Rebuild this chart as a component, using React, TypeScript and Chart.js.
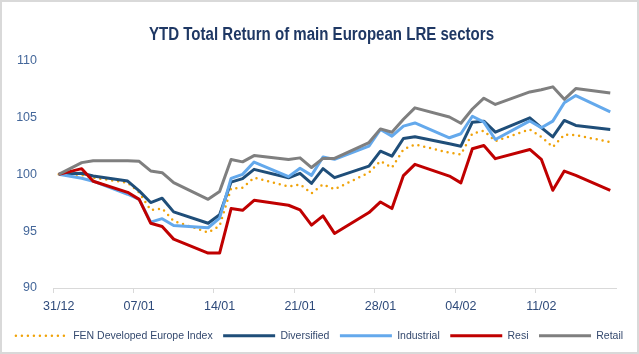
import React, { useEffect, useRef } from 'react';
import { Chart, registerables } from 'chart.js';

Chart.register(...registerables);

// Calendar of the category axis (one slot per day, 31/12 .. 17/02)
const dateLabels = [
  '31/12',
  '01/01', '02/01', '03/01', '04/01', '05/01', '06/01', '07/01', '08/01', '09/01', '10/01',
  '11/01', '12/01', '13/01', '14/01', '15/01', '16/01', '17/01', '18/01', '19/01', '20/01',
  '21/01', '22/01', '23/01', '24/01', '25/01', '26/01', '27/01', '28/01', '29/01', '30/01', '31/01',
  '01/02', '02/02', '03/02', '04/02', '05/02', '06/02', '07/02', '08/02', '09/02', '10/02',
  '11/02', '12/02', '13/02', '14/02', '15/02', '16/02', '17/02',
];

// Labels shown on the x axis
const tickLabels = ['31/12', '07/01', '14/01', '21/01', '28/01', '04/02', '11/02'];

// Trading days that carry a value
const tradeDates = [
  '31/12', '02/01', '03/01', '06/01', '07/01', '08/01', '09/01', '10/01',
  '13/01', '14/01', '15/01', '16/01', '17/01', '20/01', '21/01', '22/01', '23/01', '24/01',
  '27/01', '28/01', '29/01', '30/01', '31/01', '03/02', '04/02', '05/02', '06/02', '07/02',
  '10/02', '11/02', '12/02', '13/02', '14/02', '17/02',
];

const fenValues = [
  100, 99.95, 99.7, 99.27, 98.4, 96.87, 96.99, 95.9,
  94.89, 95.46, 98.75, 98.83, 99.71, 98.92, 99.12, 98.33, 99.12, 98.68,
  100.15, 101.17, 100.59, 102.19, 102.63, 101.9, 101.75, 103.6, 103.83, 102.92,
  103.95, 103.3, 102.4, 103.5, 103.46, 102.83,
];

const diversifiedValues = [
  100, 100.09, 99.85, 99.41, 98.55, 97.52, 97.9, 96.7,
  95.7, 96.45, 99.32, 99.62, 100.44, 99.7, 100.09, 99.2, 100.5, 99.71,
  100.73, 102.04, 101.6, 103.15, 103.3, 102.7, 102.48, 104.59, 104.68, 103.71,
  104.97, 104.12, 103.29, 104.74, 104.3, 103.95,
];

const industrialValues = [
  100, 99.65, 99.4, 98.25, 97.8, 95.8, 96.1, 95.5,
  95.3, 96.15, 99.65, 100.0, 101.08, 99.8, 100.53, 99.91, 101.52, 101.32,
  102.48, 103.95, 103.36, 104.24, 104.52, 103.22, 103.57, 105.11, 104.59, 103.07,
  104.7, 104.1, 104.68, 106.3, 106.93, 105.5,
];

const resiValues = [
  100, 100.5, 99.39, 98.42, 97.8, 95.7, 95.41, 94.3,
  93.07, 93.07, 96.99, 96.84, 97.72, 97.28, 96.87, 95.53, 96.34, 94.8,
  96.64, 97.57, 96.99, 99.89, 100.88, 99.85, 99.25, 102.25, 102.54, 101.38,
  102.19, 101.32, 98.6, 100.29, 99.91, 98.6,
];

const retailValues = [
  100, 101.03, 101.2, 101.2, 101.15, 100.3, 100.15, 99.27,
  97.8, 98.5, 101.3, 101.1, 101.65, 101.3, 101.45, 100.6, 101.4, 101.4,
  102.8, 104.0, 103.7, 104.85, 105.85, 105.05, 104.5, 105.75, 106.7, 106.15,
  107.25, 107.45, 107.7, 106.6, 107.55, 107.15,
];

const chartTitle = 'YTD Total Return of main European LRE sectors';
const seriesNames = ['FEN Developed Europe Index', 'Diversified', 'Industrial', 'Resi', 'Retail'];
const seriesColors = ['#F0A30A', '#1F4E79', '#64A9EC', '#C00000', '#7F7F7F'];
const seriesValues = [fenValues, diversifiedValues, industrialValues, resiValues, retailValues];

const toCalendar = (vals: number[]) =>
  dateLabels.map((d) => {
    const i = tradeDates.indexOf(d);
    return i >= 0 ? vals[i] : null;
  });

const BASE_FONT = '"Liberation Sans", Arial, sans-serif';

export default function App() {
  const ref = useRef<HTMLCanvasElement>(null);

  useEffect(() => {
    document.body.style.margin = '0';
    const canvas = ref.current;
    if (!canvas) return;

    const datasets = seriesNames.map((name, i) => {
      const dotted = i === 0;
      return {
        label: name,
        data: toCalendar(seriesValues[i]),
        borderColor: seriesColors[i],
        backgroundColor: seriesColors[i],
        borderWidth: dotted ? 2.5 : 3,
        borderDash: dotted ? [0, 6] : [],
        borderCapStyle: dotted ? 'round' : 'butt',
        borderJoinStyle: 'round',
        pointRadius: 0,
        pointHoverRadius: 0,
        spanGaps: true,
        tension: 0,
        yAxisID: 'y',
        order: seriesNames.length - i,
      };
    });

    const chart = new Chart(canvas, {
      type: 'line',
      data: { labels: dateLabels, datasets: datasets as any },
      options: {
        responsive: false,
        animation: false,
        devicePixelRatio: 1,
        layout: { padding: { left: 0, right: 0, top: 58.7, bottom: 1 } },
        font: { family: BASE_FONT },
        plugins: {
          tooltip: { enabled: false },
          title: { display: false },
          legend: {
            display: true,
            position: 'bottom',
            labels: {
              usePointStyle: true,
              pointStyleWidth: 52,
              boxWidth: 52,
              padding: 10.5,
              color: '#34496E',
              font: { family: BASE_FONT, size: 10.5 },
              generateLabels: (c: any) =>
                c.data.datasets.map((ds: any, i: number) => ({
                  text: ds.label,
                  fillStyle: ds.borderColor,
                  strokeStyle: ds.borderColor,
                  lineWidth: ds.borderWidth,
                  lineDash: ds.borderDash,
                  lineCap: ds.borderCapStyle,
                  pointStyle: 'line',
                  hidden: false,
                  datasetIndex: i,
                  fontColor: '#34496E',
                })),
            },
          },
        },
        scales: {
          x: {
            type: 'category',
            offset: true,
            grid: {
              display: true,
              offset: true,
              drawOnChartArea: false,
              drawTicks: true,
              tickLength: 5,
              color: (ctx: any) => (ctx.index % 7 === 0 ? '#D9D9D9' : 'rgba(0,0,0,0)'),
            },
            border: { display: true, color: '#D9D9D9', width: 1 },
            ticks: {
              autoSkip: false,
              maxRotation: 0,
              minRotation: 0,
              padding: 6,
              color: '#2E4A7A',
              font: { family: BASE_FONT, size: 12.5 },
              callback: (_v: any, index: number) => {
                const lab = dateLabels[index];
                return tickLabels.includes(lab) ? lab : '';
              },
            },
          },
          y: {
            type: 'linear',
            position: 'left',
            min: 90,
            max: 110,
            grid: { display: false, drawTicks: false },
            border: { display: false },
            ticks: {
              stepSize: 5,
              padding: 16,
              color: '#44679A',
              font: { family: BASE_FONT, size: 12.5 },
            },
            afterFit: (s: any) => {
              s.width = 51;
            },
          },
          y2: {
            type: 'linear',
            position: 'right',
            display: true,
            grid: { display: false, drawTicks: false },
            border: { display: false },
            ticks: { display: false },
            afterFit: (s: any) => {
              s.width = 21;
            },
          },
        },
      } as any,
    });

    return () => chart.destroy();
  }, []);

  return (
    <div
      style={{
        position: 'relative',
        width: 639,
        height: 354,
        boxSizing: 'border-box',
        border: '2px solid #D9D9D9',
        background: '#ffffff',
        overflow: 'hidden',
      }}
    >
      <canvas ref={ref} width={635} height={350} style={{ display: 'block', width: 635, height: 350 }} />
      <div
        style={{
          position: 'absolute',
          left: 1.5,
          top: 20.5,
          width: 635,
          textAlign: 'center',
          whiteSpace: 'nowrap',
          fontFamily: BASE_FONT,
          fontWeight: 'bold',
          fontSize: 18,
          lineHeight: '22px',
          color: '#1F3864',
          transform: 'scaleX(0.836)',
          transformOrigin: '50% 50%',
          pointerEvents: 'none',
        }}
      >
        {chartTitle}
      </div>
    </div>
  );
}
